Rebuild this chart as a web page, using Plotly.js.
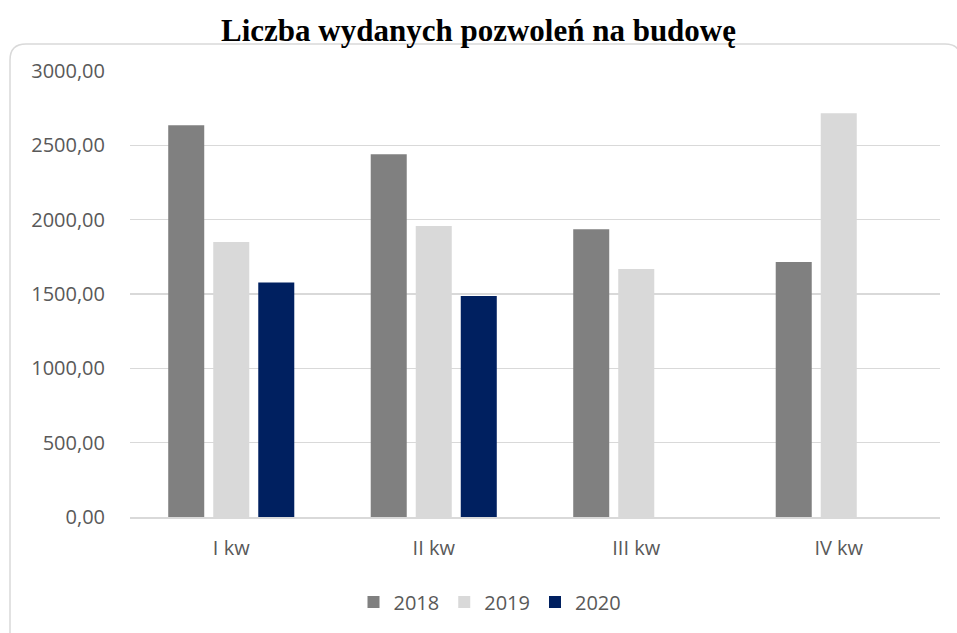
<!DOCTYPE html>
<html>
<head>
<meta charset="utf-8">
<script src="https://cdn.plot.ly/plotly-3.0.1.min.js"></script>
<style>html,body{margin:0;padding:0;background:#fff;}#chart{width:957px;height:633px;}</style>
</head>
<body>
<div id="chart"></div>
<script>
const categories = ["I kw", "II kw", "III kw", "IV kw"];
const seriesNames = ["2018", "2019", "2020"];
const values2018 = [2635, 2440, 1935, 1715];
const values2019 = [1850, 1958, 1668, 2715];
const values2020 = [1577, 1487, null, null];
const yTicks = [0, 500, 1000, 1500, 2000, 2500, 3000];
const yTickLabels = ["0,00", "500,00", "1000,00", "1500,00", "2000,00", "2500,00", "3000,00"];
const colors = ["#808080", "#d9d9d9", "#002060"];

const W = 957, H = 633;
const L = 130, R = 17, T = 71, B = 116;
const pw = W - L - R, ph = H - T - B;
function px(x) { return (x - L) / pw; }
function py(y) { return (H - B - y) / ph; }

const allValues = [values2018, values2019, values2020];
const data = allValues.map((v, i) => ({
  type: "bar",
  name: seriesNames[i],
  x: categories,
  y: v,
  marker: { color: colors[i] },
  hoverinfo: "x+y+name"
}));

// rounded border path (pixel -> paper)
const bx0 = 10, by0 = 44, bx1 = 961, by1 = 650, rr = 16;
const pathPts = [
  "M", px(bx0), py(by1),
  "L", px(bx0), py(by0 + rr),
  "Q", px(bx0), py(by0), px(bx0 + rr), py(by0),
  "L", px(bx1 - rr), py(by0),
  "Q", px(bx1), py(by0), px(bx1), py(by0 + rr),
  "L", px(bx1), py(by1)
];
let path = "";
for (let i = 0; i < pathPts.length; i++) {
  const t = pathPts[i];
  if (typeof t === "string") path += (path ? " " : "") + t + " ";
  else {
    path += t.toFixed(5);
    path += (typeof pathPts[i + 1] === "number") ? "," : "";
  }
}

const tickFont = { family: "Open Sans, sans-serif", size: 20, color: "#595959" };

const layout = {
  width: W, height: H,
  margin: { l: L, r: R, t: T, b: B, pad: 0 },
  paper_bgcolor: "#ffffff",
  plot_bgcolor: "#ffffff",
  title: {
    text: "<b>Liczba wydanych pozwoleń na budowę</b>",
    font: { family: "Liberation Serif, Times New Roman, serif", size: 31, color: "#000000" },
    x: 0.5, xanchor: "center", xref: "container",
    y: 1 - 30 / H, yanchor: "middle", yref: "container"
  },
  font: tickFont,
  barmode: "group",
  bargap: 0.333,
  bargroupgap: 0.2,
  xaxis: {
    type: "category",
    showgrid: false,
    showline: true,
    linecolor: "#d9d9d9",
    linewidth: 1.5,
    ticks: "",
    tickfont: tickFont,
    ticklabelstandoff: 12,
    fixedrange: true
  },
  yaxis: {
    range: [0, 3000],
    tickvals: yTicks,
    ticktext: yTickLabels,
    showgrid: true,
    gridcolor: "#d9d9d9",
    gridwidth: 1.5,
    zeroline: false,
    showline: false,
    ticks: "",
    tickfont: tickFont,
    ticklabelstandoff: 24,
    fixedrange: true
  },
  legend: {
    orientation: "h",
    x: px(490), xanchor: "center",
    y: py(602), yanchor: "middle",
    font: tickFont,
    itemwidth: 30,
    traceorder: "normal"
  },
  shapes: [{
    type: "path",
    xref: "paper", yref: "paper",
    path: path,
    line: { color: "#d9d9d9", width: 1.5 },
    fillcolor: "rgba(0,0,0,0)",
    layer: "below"
  }]
};

Plotly.newPlot("chart", data, layout, { displayModeBar: false, staticPlot: true });
</script>
</body>
</html>
